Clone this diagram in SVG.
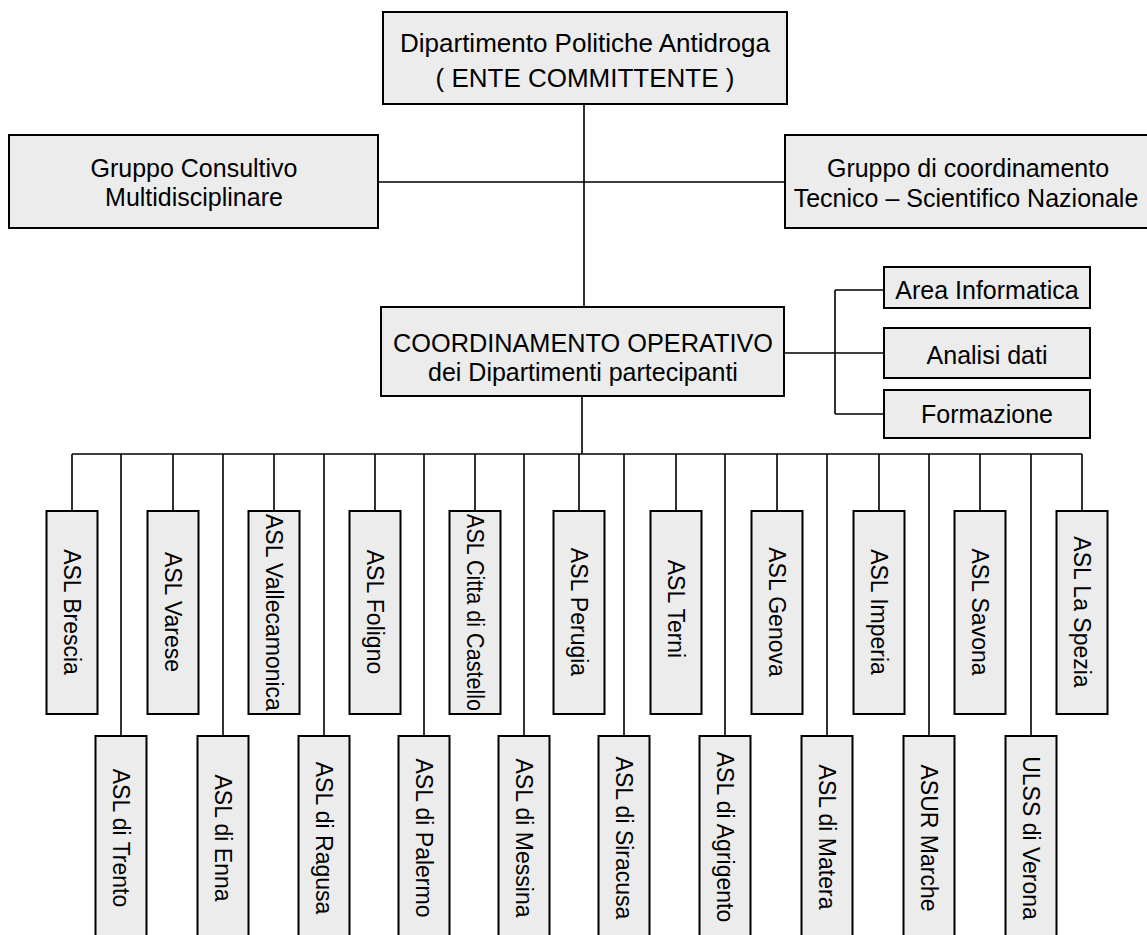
<svg xmlns="http://www.w3.org/2000/svg" width="1147" height="935" viewBox="0 0 1147 935">
<style>
.box{fill:#ececec;stroke:#000;stroke-width:2}
.ln{stroke:#000;stroke-width:1.6;fill:none}
.t{font-family:"Liberation Sans",Arial,sans-serif;font-size:25px;fill:#000;text-anchor:middle}
.big{font-size:26px}
.v{font-size:23px}
</style>
<rect width="1147" height="935" fill="#fff"/>
<g id="connectors">
<path class="ln" d="M584,104V307M378,182H785M582,396V454M72,454H1082"/>
<path class="ln" d="M784,353H835M835,290V414M835,290H884M835,353H884M835,414H884"/>
<path class="ln" d="M72,454V511M173,454V511M274,454V511M375,454V511M475,454V511M579,454V511M676,454V511M777,454V511M879,454V511M980,454V511M1082,454V511"/>
<path class="ln" d="M121,454V736M223,454V736M324,454V736M424,454V736M524,454V736M624,454V736M725,454V736M827,454V736M929,454V736M1031,454V736"/>
</g>
<g id="n-dpa"><rect class="box" x="383" y="12" width="404" height="92"/><text class="t big" x="585" y="52">Dipartimento Politiche Antidroga</text><text class="t big" x="585" y="87">( ENTE COMMITTENTE )</text></g>
<g id="n-gcm"><rect class="box" x="9" y="135" width="369" height="93"/><text class="t" x="194" y="177">Gruppo Consultivo</text><text class="t" x="194" y="206">Multidisciplinare</text></g>
<g id="n-gcts"><rect class="box" x="785" y="135" width="366" height="93"/><text class="t" x="968" y="177">Gruppo di coordinamento</text><text class="t" x="966" y="207">Tecnico – Scientifico Nazionale</text></g>
<g id="n-coord"><rect class="box" x="381" y="307" width="403" height="89"/><text class="t" x="583" y="352" textLength="380" lengthAdjust="spacingAndGlyphs">COORDINAMENTO OPERATIVO</text><text class="t" x="583" y="381">dei Dipartimenti partecipanti</text></g>
<g id="n-area"><rect class="box" x="884" y="267" width="206" height="41"/><text class="t" x="987" y="299">Area Informatica</text></g>
<g id="n-analisi"><rect class="box" x="884" y="328" width="206" height="50"/><text class="t" x="987" y="364">Analisi dati</text></g>
<g id="n-formazione"><rect class="box" x="884" y="390" width="206" height="48"/><text class="t" x="987" y="423">Formazione</text></g>

<g id="n-brescia"><rect class="box" x="46.5" y="511" width="51" height="203"/><text class="t v" transform="translate(72,612) rotate(90)" y="8">ASL Brescia</text></g>
<g id="n-varese"><rect class="box" x="147.5" y="511" width="51" height="203"/><text class="t v" transform="translate(173,612) rotate(90)" y="8">ASL Varese</text></g>
<g id="n-vallecamonica"><rect class="box" x="248.5" y="511" width="51" height="203"/><text class="t v" transform="translate(274,514) rotate(90)" y="8" style="text-anchor:start">ASL Vallecamonica</text></g>
<g id="n-foligno"><rect class="box" x="349.5" y="511" width="51" height="203"/><text class="t v" transform="translate(375,612) rotate(90)" y="8">ASL Foligno</text></g>
<g id="n-castello"><rect class="box" x="449.5" y="511" width="51" height="203"/><text class="t v" transform="translate(475,514) rotate(90)" y="8" style="text-anchor:start" textLength="197" lengthAdjust="spacingAndGlyphs">ASL Citta di Castello</text></g>
<g id="n-perugia"><rect class="box" x="553.5" y="511" width="51" height="203"/><text class="t v" transform="translate(579,612) rotate(90)" y="8">ASL Perugia</text></g>
<g id="n-terni"><rect class="box" x="650.5" y="511" width="51" height="203"/><text class="t v" transform="translate(676,609) rotate(90)" y="8">ASL Terni</text></g>
<g id="n-genova"><rect class="box" x="751.5" y="511" width="51" height="203"/><text class="t v" transform="translate(777,612) rotate(90)" y="8">ASL Genova</text></g>
<g id="n-imperia"><rect class="box" x="853.5" y="511" width="51" height="203"/><text class="t v" transform="translate(879,612) rotate(90)" y="8">ASL Imperia</text></g>
<g id="n-savona"><rect class="box" x="954.5" y="511" width="51" height="203"/><text class="t v" transform="translate(980,612) rotate(90)" y="8">ASL Savona</text></g>
<g id="n-laspezia"><rect class="box" x="1056.5" y="511" width="51" height="203"/><text class="t v" transform="translate(1082,612) rotate(90)" y="8">ASL La Spezia</text></g>

<g id="n-trento"><rect class="box" x="95.5" y="736" width="51" height="205"/><text class="t v" transform="translate(121,838) rotate(90)" y="8">ASL di Trento</text></g>
<g id="n-enna"><rect class="box" x="197.5" y="736" width="51" height="205"/><text class="t v" transform="translate(223,838) rotate(90)" y="8">ASL di Enna</text></g>
<g id="n-ragusa"><rect class="box" x="298.5" y="736" width="51" height="205"/><text class="t v" transform="translate(324,838) rotate(90)" y="8">ASL di Ragusa</text></g>
<g id="n-palermo"><rect class="box" x="398.5" y="736" width="51" height="205"/><text class="t v" transform="translate(424,838) rotate(90)" y="8">ASL di Palermo</text></g>
<g id="n-messina"><rect class="box" x="498.5" y="736" width="51" height="205"/><text class="t v" transform="translate(524,838) rotate(90)" y="8">ASL di Messina</text></g>
<g id="n-siracusa"><rect class="box" x="598.5" y="736" width="51" height="205"/><text class="t v" transform="translate(624,838) rotate(90)" y="8">ASL di Siracusa</text></g>
<g id="n-agrigento"><rect class="box" x="699.5" y="736" width="51" height="205"/><text class="t v" transform="translate(725,837) rotate(90)" y="8">ASL di Agrigento</text></g>
<g id="n-matera"><rect class="box" x="801.5" y="736" width="51" height="205"/><text class="t v" transform="translate(827,837) rotate(90)" y="8">ASL di Matera</text></g>
<g id="n-marche"><rect class="box" x="903.5" y="736" width="51" height="205"/><text class="t v" transform="translate(929,838) rotate(90)" y="8">ASUR Marche</text></g>
<g id="n-verona"><rect class="box" x="1005.5" y="736" width="51" height="205"/><text class="t v" transform="translate(1031,838) rotate(90)" y="8">ULSS di Verona</text></g>
</svg>
